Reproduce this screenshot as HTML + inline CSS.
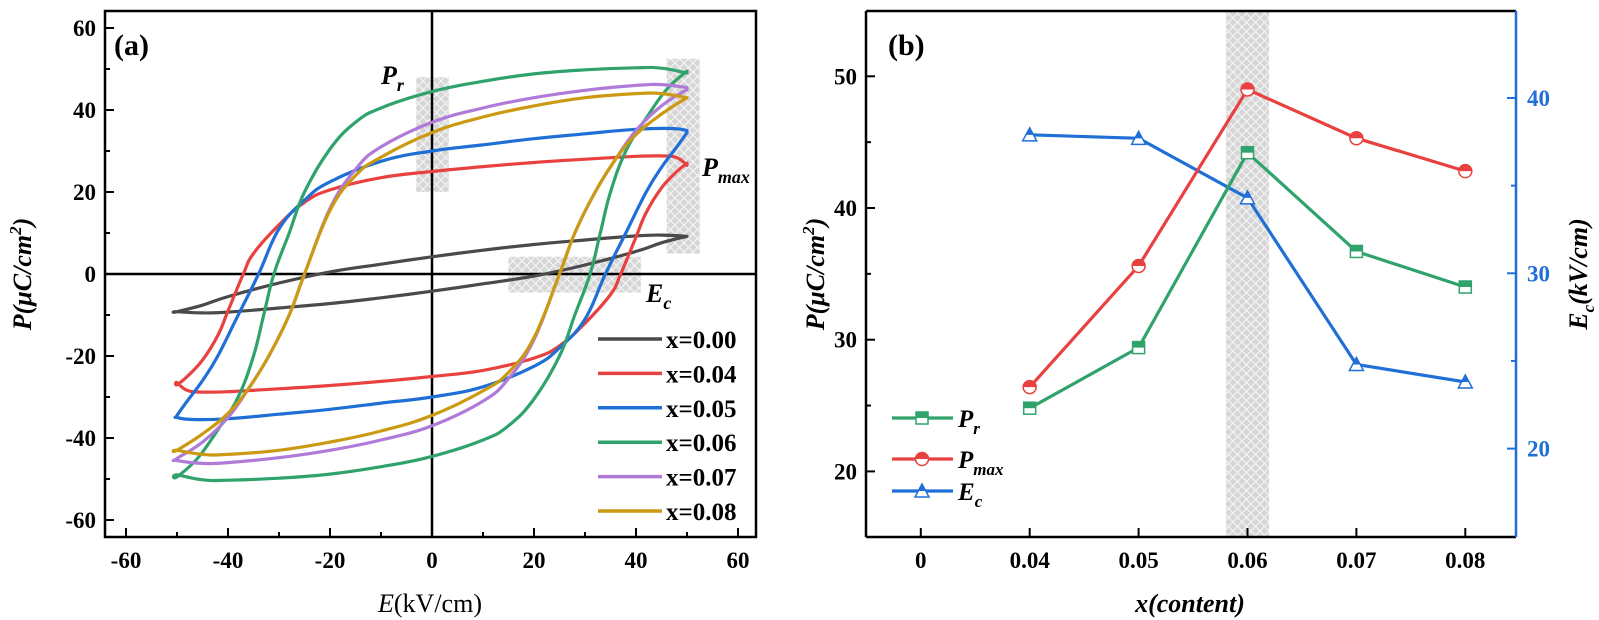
<!DOCTYPE html>
<html><head><meta charset="utf-8">
<style>
html,body{margin:0;padding:0;background:#fff;}
svg{display:block;font-family:"Liberation Serif",serif;}
.tk{font-weight:bold;font-size:23px;}
</style></head>
<body>
<svg id="c" width="1599" height="620" viewBox="0 0 1599 620" xmlns="http://www.w3.org/2000/svg">
<defs>
<pattern id="hatch" width="9" height="9" patternUnits="userSpaceOnUse">
<rect width="9" height="9" fill="#d6d6d6"/>
<path d="M0,0 L9,9 M9,0 L0,9" stroke="#f4f4f4" stroke-width="1.2"/>
</pattern>
</defs>
<g id="pa"></g>
<g id="pb"></g>
</svg>
<script>
// ===== Panel (a) data =====
const seriesNames = ["x=0.00","x=0.04","x=0.05","x=0.06","x=0.07","x=0.08"];
const seriesColors = ["#4a4a4a","#e8413f","#1f6fd6","#2fa36b","#b07ad9","#cc9a12"];
const E0 = [50,45,40,30,20,10,0,-10,-20,-30,-40,-45,-50];
const P0 = [9.2,9.5,9.3,8.3,7.2,5.8,4.2,2.4,0.5,-2.2,-5.5,-7.6,-9.2];
const E4 = [50,48,45,40,30,20,10,0,-10,-20,-25,-30,-35,-37,-40,-42,-45,-48,-50];
const P4 = [26.5,28.4,28.8,28.7,28,27.2,26.2,25,23.5,20.5,17.5,12,5,0,-9,-15,-21,-25,-27];
const E5 = [50,47,40,30,20,10,0,-10,-20,-25,-30,-34,-38,-42,-45,-48,-50];
const P5 = [35,35.5,35.3,34.2,33,31.5,30,27.5,22.5,18,11,0,-10,-20,-26,-31,-34.5];
const E6 = [50,45,40,30,20,10,0,-10,-15,-20,-25,-28,-31,-33,-35,-38,-42,-46,-50];
const P6 = [49,50.2,50.3,49.8,48.8,47,44.5,40.5,37,30.5,20,10,0,-10,-20,-30,-38,-45,-49.5];
const E7 = [50,45,40,30,20,10,0,-10,-15,-20,-25,-28,-32,-36,-40,-45,-50];
const P7 = [45.5,46.2,46,44.8,43,40.5,37,31,25.5,16,0,-10,-20,-28,-35,-41,-45];
const E8 = [50,45,40,30,20,10,0,-10,-15,-20,-25,-28,-32,-36,-40,-45,-50];
const P8 = [43,44,44,43,41,38.3,34.5,28.5,24,15.5,0,-10,-20,-28,-34,-39,-43];
const loopE = [E0,E4,E5,E6,E7,E8];
const loopP = [P0,P4,P5,P6,P7,P8];
const aTicks = [-60,-40,-20,0,20,40,60];

// ===== Panel (b) data =====
const bCats = ["0","0.04","0.05","0.06","0.07","0.08"];
const bX = [1,2,3,4,5];
const prVals = [24.8,29.4,44.2,36.7,34.0];
const pmaxVals = [26.4,35.6,49.0,45.3,42.8];
const ecVals = [37.9,37.7,34.3,24.8,23.8];
const bLeftTicks = [20,30,40,50];
const bRightTicks = [20,30,40];

const NS="http://www.w3.org/2000/svg";
function mk(parent,tag,attrs,text){const e=document.createElementNS(NS,tag);for(const k in attrs)e.setAttribute(k,attrs[k]);if(text!==undefined)e.textContent=text;parent.appendChild(e);return e;}
function smooth(pts,closed){
  let d="M"+pts[0][0].toFixed(1)+","+pts[0][1].toFixed(1);
  const n=pts.length;
  for(let i=0;i<n-1;i++){
    const p0=pts[Math.max(i-1,0)],p1=pts[i],p2=pts[i+1],p3=pts[Math.min(i+2,n-1)];
    const c1=[p1[0]+(p2[0]-p0[0])/5,p1[1]+(p2[1]-p0[1])/5];
    const c2=[p2[0]-(p3[0]-p1[0])/5,p2[1]-(p3[1]-p1[1])/5];
    d+=" C"+c1[0].toFixed(1)+","+c1[1].toFixed(1)+" "+c2[0].toFixed(1)+","+c2[1].toFixed(1)+" "+p2[0].toFixed(1)+","+p2[1].toFixed(1);
  }
  return d+(closed?" Z":"");
}

// ----- Panel A -----
const A=document.getElementById('pa');
const ax=E=>432+5.1*E, ay=P=>274-4.1*P;
let hb=mk(A,'rect',{x:ax(-3.1),y:ay(48),width:ax(3.3)-ax(-3.1),height:ay(20)-ay(48),fill:'url(#hatch)'});


hb=mk(A,'rect',{x:ax(46),y:ay(52.5),width:ax(52.5)-ax(46),height:ay(5)-ay(52.5),fill:'url(#hatch)'});


hb=mk(A,'rect',{x:ax(15),y:ay(4.2),width:ax(41)-ax(15),height:ay(-4.5)-ay(4.2),fill:'url(#hatch)'});


mk(A,'line',{x1:ax(0),y1:11,x2:ax(0),y2:537,stroke:'#000','stroke-width':2.5});
mk(A,'line',{x1:105,y1:ay(0),x2:756,y2:ay(0),stroke:'#000','stroke-width':2.5});
for(let s=0;s<loopE.length;s++){
  const E=loopE[s],P=loopP[s];const pts=[];
  for(let i=0;i<E.length;i++)pts.push([ax(E[i]),ay(P[i])]);
  for(let i=0;i<E.length;i++)pts.push([ax(-E[i]),ay(-P[i])]);
  const p=mk(A,'path',{d:smooth(pts,true),fill:'none',stroke:seriesColors[s],'stroke-width':3.2,'stroke-linejoin':'round'});
  
  
}
mk(A,'rect',{x:105,y:11,width:651,height:526,fill:'none',stroke:'#000','stroke-width':2.5});
for(let v=-60;v<=60;v+=10){
  const major=v%20===0;const L=major?9:5;
  mk(A,'line',{x1:ax(v),y1:537,x2:ax(v),y2:537-L,stroke:'#000','stroke-width':2});
  mk(A,'line',{x1:105,y1:ay(v),x2:105+L,y2:ay(v),stroke:'#000','stroke-width':2});
}
aTicks.forEach(v=>{
  let t=mk(A,'text',{x:ax(v),y:568,'text-anchor':'middle',class:'tk'},String(v));
  
  
  t=mk(A,'text',{x:96,y:ay(v)+8,'text-anchor':'end',class:'tk'},String(v));
  
  
});
for(let s=0;s<seriesNames.length;s++){
  const y=339+s*34.4;
  const g=mk(A,'g',{});
  
  
  mk(g,'line',{x1:598,y1:y,x2:662,y2:y,stroke:seriesColors[s],'stroke-width':3.5});
  mk(g,'text',{x:666,y:y+9,'font-weight':'bold','font-size':'25px'},seriesNames[s]);
}
</script>
<script>
(function(){
const A=document.getElementById('pa');
A.insertAdjacentHTML('beforeend',
'<text x="114" y="55" font-weight="bold" font-size="30">(a)</text>'+
'<text x="381" y="84" font-weight="bold" font-style="italic" font-size="26">P<tspan font-size="18" dy="7">r</tspan></text>'+
'<text x="702" y="176" font-weight="bold" font-style="italic" font-size="26">P<tspan font-size="18" dy="7">max</tspan></text>'+
'<text x="646" y="302" font-weight="bold" font-style="italic" font-size="26">E<tspan font-size="18" dy="7">c</tspan></text>'+
'<text x="430" y="612" text-anchor="middle" font-size="26"><tspan font-style="italic">E</tspan>(kV/cm)</text>'+
'<text transform="translate(31,274) rotate(-90)" text-anchor="middle" font-weight="bold" font-style="italic" font-size="26">P(μC/cm<tspan font-size="17" dy="-10">2</tspan><tspan dy="10">)</tspan></text>');
})();
</script>
<script>
(function(){
const B=document.getElementById('pb');
const NS="http://www.w3.org/2000/svg";
function mk(parent,tag,attrs,text){const e=document.createElementNS(NS,tag);for(const k in attrs)e.setAttribute(k,attrs[k]);if(text!==undefined)e.textContent=text;parent.appendChild(e);return e;}
const bx=i=>920.8+108.9*i, by=P=>76.3+(50-P)*13.17, byR=E=>98+(40-E)*17.53;
const L=866,R=1516,T=11,Bt=537;
const GREEN="#2fa36b",RED="#e8413f",BLUE="#1f6fd6";
let h=mk(B,'rect',{x:bx(3)-21.5,y:T,width:43,height:Bt-T,fill:'url(#hatch)'});


function line(vals,f,color,name){
  let d="";vals.forEach((v,i)=>{d+=(i?"L":"M")+bx(bX[i])+","+f(v);});
  const p=mk(B,'path',{d:d,fill:'none',stroke:color,'stroke-width':3.2});
  
  
}
function marker(g,type,x,y,color){
  const s=6;
  if(type==='sq'){mk(g,'rect',{x:x-s,y:y-s,width:2*s,height:2*s,fill:'#fff',stroke:color,'stroke-width':1.5});mk(g,'rect',{x:x-s,y:y-s,width:2*s,height:s,fill:color});}
  else if(type==='ci'){mk(g,'circle',{cx:x,cy:y,r:s+0.5,fill:'#fff',stroke:color,'stroke-width':1.5});mk(g,'path',{d:`M${x-s-0.5},${y} A${s+0.5},${s+0.5} 0 0 1 ${x+s+0.5},${y} Z`,fill:color});}
  else {mk(g,'path',{d:`M${x},${y-s-1} L${x+s+1},${y+s} L${x-s-1},${y+s} Z`,fill:'#fff',stroke:color,'stroke-width':1.5});mk(g,'path',{d:`M${x},${y-s-1} L${x+3.5},${y} L${x-3.5},${y} Z`,fill:color});}
}
function pts(vals,f,color,type,name){
  vals.forEach((v,i)=>{const g=mk(B,'g',{});
    
    
    marker(g,type,bx(bX[i]),f(v),color);});
}
line(ecVals,byR,BLUE,'ec-line');
line(prVals,by,GREEN,'pr-line');
line(pmaxVals,by,RED,'pmax-line');
pts(ecVals,byR,BLUE,'tr','ec-point');
pts(prVals,by,GREEN,'sq','pr-point');
pts(pmaxVals,by,RED,'ci','pmax-point');
mk(B,'line',{x1:L,y1:T,x2:R,y2:T,stroke:'#000','stroke-width':2.5});
mk(B,'line',{x1:L,y1:T,x2:L,y2:Bt,stroke:'#000','stroke-width':2.5});
mk(B,'line',{x1:L,y1:Bt,x2:R,y2:Bt,stroke:'#000','stroke-width':2.5});
mk(B,'line',{x1:R,y1:T,x2:R,y2:Bt,stroke:BLUE,'stroke-width':2.5});
bCats.forEach((c,i)=>{
  mk(B,'line',{x1:bx(i),y1:Bt,x2:bx(i),y2:Bt-9,stroke:'#000','stroke-width':2});
  const t=mk(B,'text',{x:bx(i),y:568,'text-anchor':'middle',class:'tk'},c);
  
  
});
for(let v=20;v<=50;v+=5){const Lg=v%10===0?9:5;mk(B,'line',{x1:L,y1:by(v),x2:L+Lg,y2:by(v),stroke:'#000','stroke-width':2});}
bLeftTicks.forEach(v=>{const t=mk(B,'text',{x:857,y:by(v)+8,'text-anchor':'end',class:'tk'},String(v));
  
  });
for(let v=20;v<=40;v+=5){const Lg=v%10===0?9:5;mk(B,'line',{x1:R,y1:byR(v),x2:R-Lg,y2:byR(v),stroke:BLUE,'stroke-width':2});}
bRightTicks.forEach(v=>{const t=mk(B,'text',{x:1527,y:byR(v)+8,class:'tk',fill:BLUE},String(v));
  
  });
const leg=[["sq",GREEN,"P","r"],["ci",RED,"P","max"],["tr",BLUE,"E","c"]];
const ly=[418,459,491];
leg.forEach((l,k)=>{const g=mk(B,'g',{});
  
  
  mk(g,'line',{x1:892,y1:ly[k],x2:953,y2:ly[k],stroke:l[1],'stroke-width':3.2});
  marker(g,l[0],922,ly[k],l[1]);
  const t=mk(g,'text',{x:958,y:ly[k]+9,'font-weight':'bold','font-style':'italic','font-size':'25px'},l[2]);
  mk(t,'tspan',{'font-size':'17px',dy:7},l[3]);
});
B.insertAdjacentHTML('beforeend',
'<text x="888" y="55" font-weight="bold" font-size="30">(b)</text>'+
'<text x="1190" y="612" text-anchor="middle" font-weight="bold" font-style="italic" font-size="26">x(content)</text>'+
'<text transform="translate(824,274) rotate(-90)" text-anchor="middle" font-weight="bold" font-style="italic" font-size="26">P(μC/cm<tspan font-size="17" dy="-10">2</tspan><tspan dy="10">)</tspan></text>'+
'<text transform="translate(1587,274) rotate(-90)" text-anchor="middle" font-weight="bold" font-style="italic" font-size="26">E<tspan font-size="17" dy="7">c</tspan><tspan dy="-7">(kV/cm)</tspan></text>');
})();
</script>
</body></html>
